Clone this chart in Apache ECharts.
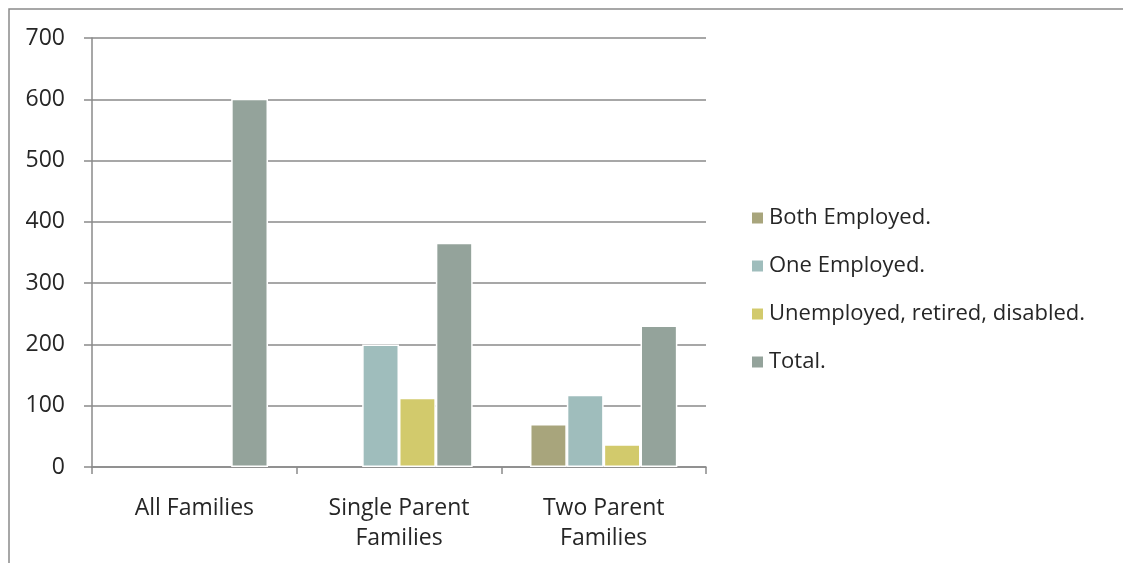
<!DOCTYPE html>
<html><head><meta charset="utf-8">
<script src="https://cdn.jsdelivr.net/npm/echarts@6/dist/echarts.min.js"></script>
<style>html,body{margin:0;padding:0;background:#fff}#c{width:1123px;height:563px}</style>
</head><body><div id="c"></div>
<script>
var categories = ['All Families', 'Single Parent\nFamilies', 'Two Parent\nFamilies'];
var seriesNames = ['Both Employed.', 'One Employed.', 'Unemployed, retired, disabled.', 'Total.'];
var bothEmployed = [null, null, 70];
var oneEmployed = [null, 200, 118];
var unemployed = [null, 113, 37];
var total = [601, 366, 231];
var yTicks = [0, 100, 200, 300, 400, 500, 600, 700];
var colors = ['#A8A57C', '#9FBDBC', '#D2CA6C', '#94A39B'];

var FONT = 'Open Sans';
var TXT = '#262626';
var values = [bothEmployed, oneEmployed, unemployed, total];
var chart = echarts.init(document.getElementById('c'));
chart.setOption({
  animation: false,
  color: colors,
  graphic: [{
    type: 'rect', shape: {x: 9, y: 9, width: 1200, height: 700},
    style: {fill: 'none', stroke: '#8a8a8a', lineWidth: 1.5}, silent: true, z: -1
  }],
  grid: {left: 92, right: 417, top: 38, bottom: 96},
  legend: {
    orient: 'vertical', left: 745, top: 202,
    itemWidth: 13, itemHeight: 13, itemGap: 26,
    icon: 'rect',
    data: seriesNames,
    textStyle: {fontFamily: FONT, fontSize: 22, color: TXT, lineHeight: 22, padding: [0, 0, 0, 0]}
  },
  xAxis: {
    type: 'category', data: categories,
    axisLine: {lineStyle: {color: '#8a8a8a', width: 1.5}},
    axisTick: {show: true, length: 7, lineStyle: {color: '#8a8a8a', width: 1.5}},
    axisLabel: {fontFamily: FONT, fontSize: 23, color: TXT, margin: 26, lineHeight: 30, interval: 0}
  },
  yAxis: {
    type: 'value', min: 0, max: 700, interval: 100,
    axisLine: {show: true, lineStyle: {color: '#8a8a8a', width: 1.5}},
    axisTick: {show: true, length: 8, lineStyle: {color: '#8a8a8a', width: 1.5}},
    splitLine: {lineStyle: {color: '#8a8a8a', width: 1.5}},
    axisLabel: {fontFamily: FONT, fontSize: 23, color: TXT, margin: 27,
      formatter: function (v) { return yTicks.indexOf(v) >= 0 ? String(v) : ''; }}
  },
  series: seriesNames.map(function (n, i) {
    return {
      name: n, type: 'bar', data: values[i],
      barGap: '0%', barCategoryGap: '28%',
      itemStyle: {borderColor: '#ffffff', borderWidth: 1.5}
    };
  })
});
</script></body></html>
